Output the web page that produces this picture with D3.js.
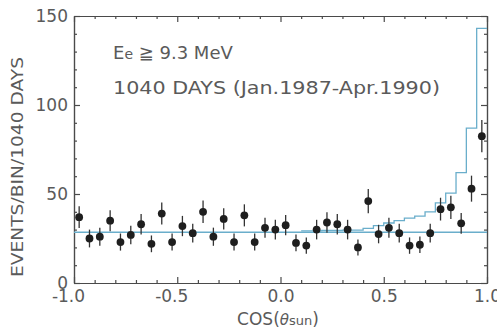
<!DOCTYPE html>
<html><head><meta charset="utf-8">
<script src="https://cdn.jsdelivr.net/npm/d3@7"></script>
<style>body{margin:0;background:#fff}text{font-family:"DejaVu Sans",sans-serif}</style>
</head><body><svg id="c" width="497" height="332"></svg>
<script>
// ---- data ----
const binCenters = [-0.975,-0.925,-0.875,-0.825,-0.775,-0.725,-0.675,-0.625,-0.575,-0.525,
  -0.475,-0.425,-0.375,-0.325,-0.275,-0.225,-0.175,-0.125,-0.075,-0.025,
  0.025,0.075,0.125,0.175,0.225,0.275,0.325,0.375,0.425,0.475,
  0.525,0.575,0.625,0.675,0.725,0.775,0.825,0.875,0.925,0.975];
const eventCounts = [37,25,26,35,23,27,33,22,39,23,
  32,28,40,26,36,23,38,23,31,30,
  32.5,22.5,21,30,34,33,30,20,46,27.5,
  31,28,21,21.5,28,41.5,42.5,33.5,53,82.5];
const eventErrors = [6.1,5,5.1,5.9,4.8,5.2,5.7,4.7,6.2,4.8,
  5.7,5.3,6.3,5.1,6,4.8,6.2,4.8,5.6,5.5,
  5.7,4.7,4.6,5.5,5.8,5.7,5.5,4.5,6.8,5.2,
  5.6,5.3,4.6,4.6,5.3,6.4,6.5,5.8,7.3,9.1];
const flatLevel = 28.5;
const histEdges = [0.10,0.15,0.20,0.25,0.30,0.35,0.40,0.45,0.50,0.55,0.60,0.65,0.70,0.75,0.80,0.85,0.90,0.95,1.00];
const histValues = [29.3,29.3,29.5,29.5,29.7,29.7,30.7,32.2,33.7,35,36.5,37.6,40,45,50.5,62,87,143];
const xMajorTicks = [-1.0,-0.5,0.0,0.5,1.0];
const xMinorTicks = [-0.9,-0.8,-0.7,-0.6,-0.4,-0.3,-0.2,-0.1,0.1,0.2,0.3,0.4,0.6,0.7,0.8,0.9];
const yMajorTicks = [0,50,100,150];
const yMinorTicks = [10,20,30,40,60,70,80,90,110,120,130,140];

// ---- layout ----
const svg = d3.select("#c");
const L = 74, R = 487, T = 16, B = 283;
const x = d3.scaleLinear().domain([-1,1]).range([L,R]);
const y = d3.scaleLinear().domain([0,150]).range([B,T]);
const axisCol = "#4a4a4a", textCol = "#5a5a5a", blue = "#6aaecb";

function styleAxis(g){
  g.selectAll("path,line").attr("stroke",axisCol).attr("stroke-width",1.2);
  g.selectAll("text").attr("fill",textCol).attr("font-size",17).attr("font-family","DejaVu Sans");
}
const fmt = d => d3.format(".1f")(d).replace("\u2212","-");

// bottom
svg.append("g").attr("transform",`translate(0,${B})`)
  .call(d3.axisBottom(x).tickValues(xMinorTicks).tickSizeInner(-3).tickSizeOuter(0).tickFormat(""))
  .call(styleAxis);
const bx = svg.append("g").attr("transform",`translate(0,${B})`)
  .call(d3.axisBottom(x).tickValues(xMajorTicks).tickSizeInner(-6).tickSizeOuter(0).tickPadding(7).tickFormat(fmt))
  .call(styleAxis);
bx.selectAll(".tick text").attr("dx", d => d < 0 ? -6 : 0);
// top
svg.append("g").attr("transform",`translate(0,${T})`)
  .call(d3.axisTop(x).tickValues(xMinorTicks).tickSizeInner(-3).tickSizeOuter(0).tickFormat(""))
  .call(styleAxis);
svg.append("g").attr("transform",`translate(0,${T})`)
  .call(d3.axisTop(x).tickValues(xMajorTicks).tickSizeInner(-6).tickSizeOuter(0).tickFormat(""))
  .call(styleAxis);
// left
svg.append("g").attr("transform",`translate(${L},0)`)
  .call(d3.axisLeft(y).tickValues(yMinorTicks).tickSizeInner(-3).tickSizeOuter(0).tickFormat(""))
  .call(styleAxis);
svg.append("g").attr("transform",`translate(${L},0)`)
  .call(d3.axisLeft(y).tickValues(yMajorTicks).tickSizeInner(-6).tickSizeOuter(0).tickPadding(6).tickFormat(d3.format("d")))
  .call(styleAxis);
// right
svg.append("g").attr("transform",`translate(${R},0)`)
  .call(d3.axisRight(y).tickValues(yMinorTicks).tickSizeInner(-3).tickSizeOuter(0).tickFormat(""))
  .call(styleAxis);
svg.append("g").attr("transform",`translate(${R},0)`)
  .call(d3.axisRight(y).tickValues(yMajorTicks).tickSizeInner(-6).tickSizeOuter(0).tickFormat(""))
  .call(styleAxis);

// flat background line
svg.append("line").attr("x1",x(-1)).attr("x2",x(1))
  .attr("y1",y(flatLevel)).attr("y2",y(flatLevel))
  .attr("stroke",blue).attr("stroke-width",1.5);
// histogram
const histPts = histEdges.map((e,i)=>[e, histValues[Math.min(i,histValues.length-1)]]);
svg.append("path").datum(histPts)
  .attr("d", d3.line().x(d=>x(d[0])).y(d=>y(d[1])).curve(d3.curveStepAfter))
  .attr("fill","none").attr("stroke",blue).attr("stroke-width",1.3);

// error bars & points
const pts = binCenters.map((c,i)=>({c, v:eventCounts[i], e:eventErrors[i]}));
svg.append("g").selectAll("line").data(pts).join("line")
  .attr("x1",d=>x(d.c)).attr("x2",d=>x(d.c))
  .attr("y1",d=>y(d.v-d.e)).attr("y2",d=>y(d.v+d.e))
  .attr("stroke","#333").attr("stroke-width",1.3);
svg.append("g").selectAll("circle").data(pts).join("circle")
  .attr("cx",d=>x(d.c)).attr("cy",d=>y(d.v)).attr("r",3.9).attr("fill","#1e1e1e");

// annotations
const t1 = svg.append("text").attr("x",113).attr("y",59).attr("font-size",18).attr("fill",textCol);
t1.append("tspan").text("E");
t1.append("tspan").attr("font-size",14).text("e");
t1.append("tspan").text(" \u2267 9.3 MeV");
svg.append("text").attr("x",113).attr("y",94).attr("font-size",17).attr("fill",textCol)
  .attr("textLength",327).attr("lengthAdjust","spacingAndGlyphs")
  .text("1040 DAYS (Jan.1987-Apr.1990)");

// axis titles
const xt = svg.append("text").attr("x",278).attr("y",325).attr("text-anchor","middle")
  .attr("font-size",17).attr("fill",textCol);
xt.append("tspan").text("COS(");
xt.append("tspan").attr("font-style","italic").attr("font-size",15).text("\u03b8");
xt.append("tspan").attr("font-size",13).text("sun");
xt.append("tspan").text(")");
svg.append("text").attr("transform","translate(23,167) rotate(-90)")
  .attr("text-anchor","middle").attr("font-size",16).attr("fill",textCol)
  .attr("textLength",220).attr("lengthAdjust","spacingAndGlyphs")
  .text("EVENTS/BIN/1040 DAYS");
</script></body></html>
